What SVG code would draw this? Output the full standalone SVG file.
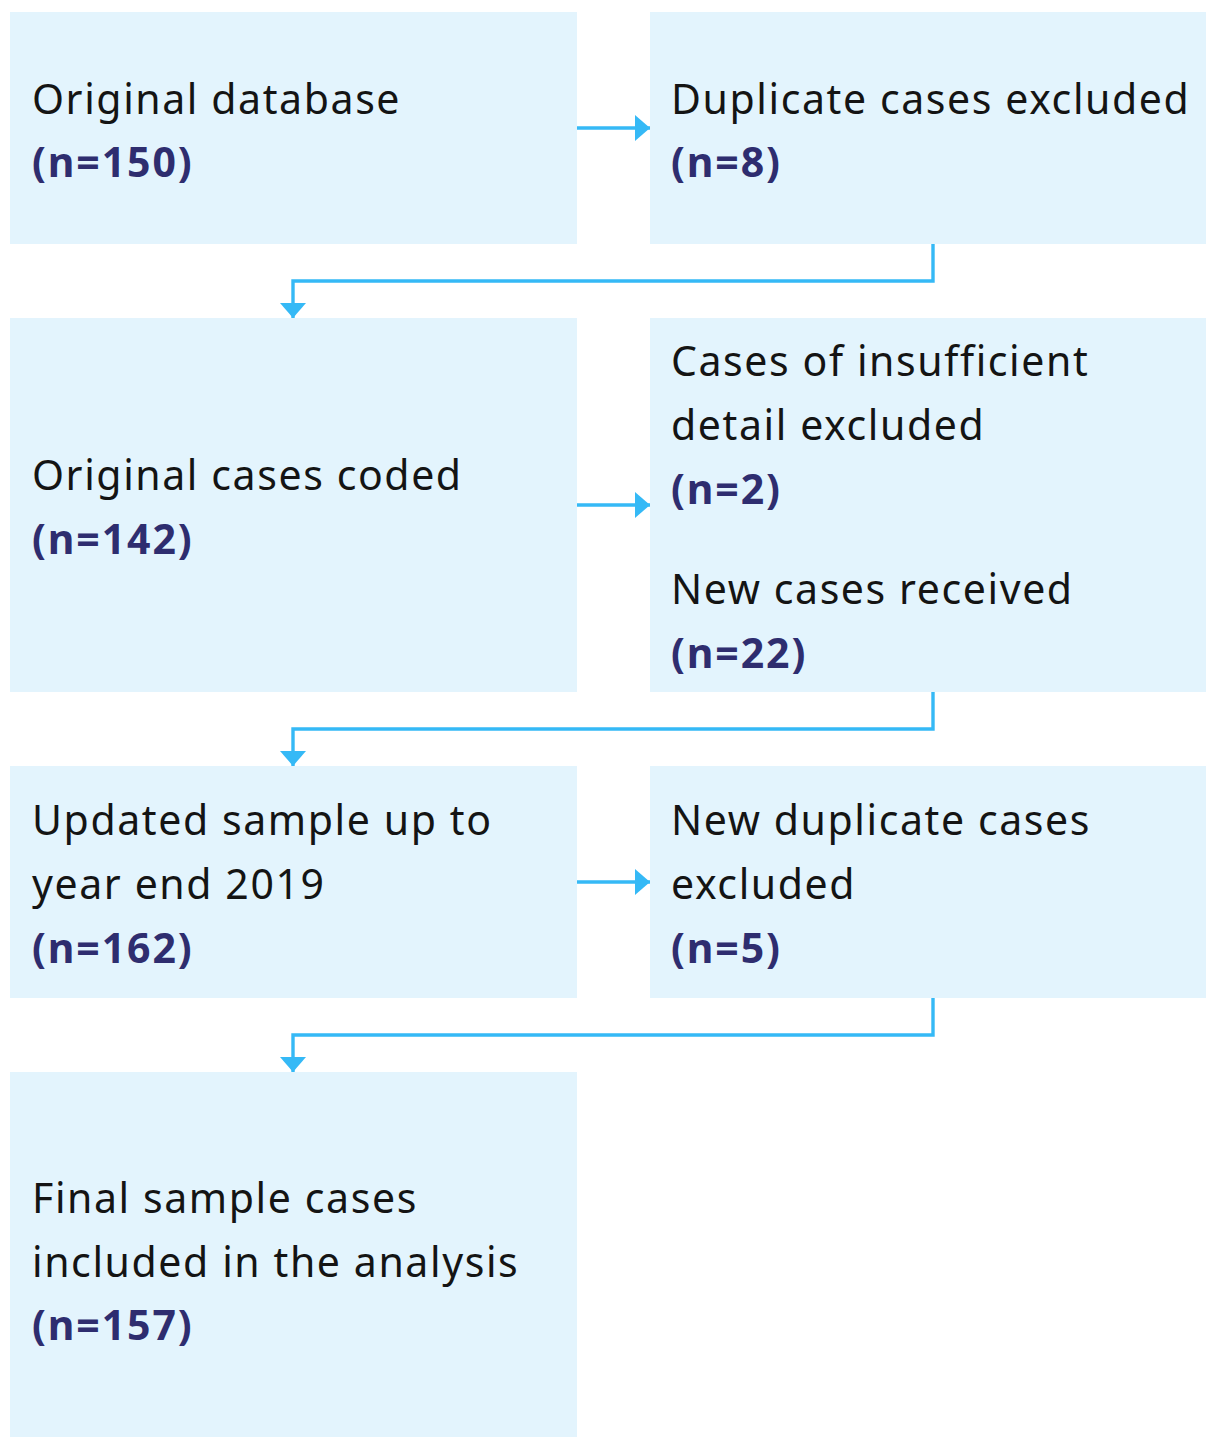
<svg xmlns="http://www.w3.org/2000/svg" width="1206" height="1437" viewBox="0 0 1206 1437">
<defs>
<style>
.box{fill:#e3f4fd}
.t{font-family:"Noto Sans","Liberation Sans",sans-serif;font-size:41px;letter-spacing:1.6px;fill:#141414}
.n{font-family:"Noto Sans","Liberation Sans",sans-serif;font-size:41px;letter-spacing:1.9px;font-weight:bold;fill:#2e2d6f}
.c{fill:none;stroke:#35b9f6;stroke-width:3.4}
</style>
<marker id="ah" viewBox="0 0 15 26" refX="15" refY="13" markerWidth="15" markerHeight="26" markerUnits="userSpaceOnUse" orient="auto">
<path d="M0,0 L15,13 L0,26 Z" fill="#35b9f6"/>
</marker>
</defs>
<rect width="1206" height="1437" fill="#fff"/>
<g id="connectors">
<path class="c" d="M577,128 H650" marker-end="url(#ah)"/>
<path class="c" d="M933,244 V281 H293 V318" marker-end="url(#ah)"/>
<path class="c" d="M577,505 H650" marker-end="url(#ah)"/>
<path class="c" d="M933,692 V729 H293 V766" marker-end="url(#ah)"/>
<path class="c" d="M577,882 H650" marker-end="url(#ah)"/>
<path class="c" d="M933,998 V1035 H293 V1072" marker-end="url(#ah)"/>
</g>
<g id="n1"><rect class="box" x="10" y="12" width="567" height="232"/>
<text class="t" x="32" y="114">Original database</text>
<text class="n" x="32" y="177">(n=150)</text></g>
<g id="n2"><rect class="box" x="650" y="12" width="556" height="232"/>
<text class="t" x="671" y="114">Duplicate cases excluded</text>
<text class="n" x="671" y="177">(n=8)</text></g>
<g id="n3"><rect class="box" x="10" y="318" width="567" height="374"/>
<text class="t" x="32" y="490">Original cases coded</text>
<text class="n" x="32" y="554">(n=142)</text></g>
<g id="n4"><rect class="box" x="650" y="318" width="556" height="374"/>
<text class="t" x="671" y="376">Cases of insufficient</text>
<text class="t" x="671" y="440">detail excluded</text>
<text class="n" x="671" y="504">(n=2)</text>
<text class="t" x="671" y="604">New cases received</text>
<text class="n" x="671" y="668">(n=22)</text></g>
<g id="n5"><rect class="box" x="10" y="766" width="567" height="232"/>
<text class="t" x="32" y="835">Updated sample up to</text>
<text class="t" x="32" y="899">year end 2019</text>
<text class="n" x="32" y="963">(n=162)</text></g>
<g id="n6"><rect class="box" x="650" y="766" width="556" height="232"/>
<text class="t" x="671" y="835">New duplicate cases</text>
<text class="t" x="671" y="899">excluded</text>
<text class="n" x="671" y="963">(n=5)</text></g>
<g id="n7"><rect class="box" x="10" y="1072" width="567" height="365"/>
<text class="t" x="32" y="1213">Final sample cases</text>
<text class="t" x="32" y="1277">included in the analysis</text>
<text class="n" x="32" y="1340">(n=157)</text></g>
</svg>
